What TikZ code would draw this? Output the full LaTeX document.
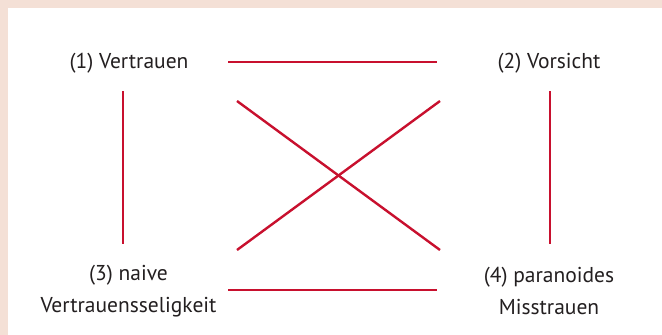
\documentclass[tikz,border=0pt]{standalone}
\usepackage{fontspec}
\setmainfont{PT Sans}
\definecolor{peach}{HTML}{F4E0D6}
\definecolor{linered}{HTML}{C8102E}
\definecolor{txt}{HTML}{231F20}
\begin{document}
\begin{tikzpicture}[x=1pt,y=-1pt,
  lbl/.style={text=txt,font=\fontsize{21.5}{32}\selectfont,align=center,inner sep=0pt},
  conn/.style={draw=linered,line width=2.4pt}]
\useasboundingbox (0,0) rectangle (662,335);
\fill[peach] (0,0) rectangle (662,335);
\fill[white] (8,8) rectangle (662,335);
\node[lbl] (v) at (129,63) {(1) Vertrauen};
\node[lbl] (vs) at (549,63) {(2) Vorsicht};
\node[lbl] (nv) at (128.5,291) {(3) naive\\Vertrauensseligkeit};
\node[lbl] (pm) at (549,291) {(4) paranoides\\Misstrauen};
\coordinate (t1) at (228,62);
\coordinate (t2) at (437,62);
\coordinate (b1) at (228,290);
\coordinate (b2) at (437,290);
\coordinate (l1) at (123,91);
\coordinate (l2) at (123,244);
\coordinate (r1) at (550,91);
\coordinate (r2) at (550,244);
\coordinate (d1) at (237,101);
\coordinate (d2) at (440,250);
\coordinate (e1) at (237,250);
\coordinate (e2) at (440,101);
\draw[conn] (t1) -- (t2);
\draw[conn] (b1) -- (b2);
\draw[conn] (l1) -- (l2);
\draw[conn] (r1) -- (r2);
\draw[conn] (d1) -- (d2);
\draw[conn] (e1) -- (e2);
\end{tikzpicture}
\end{document}
